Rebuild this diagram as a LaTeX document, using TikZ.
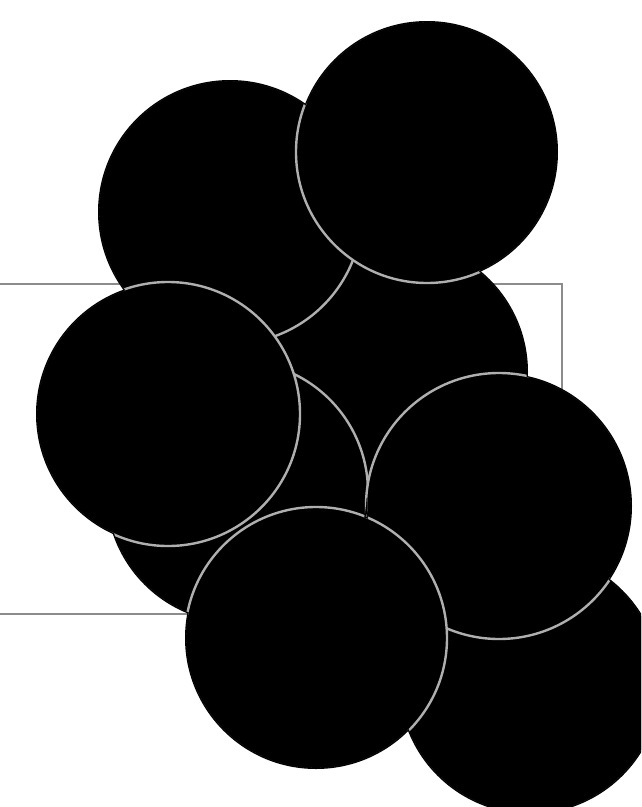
\documentclass[tikz,border=0pt]{standalone}
\definecolor{ringgray}{RGB}{175,175,175}
\definecolor{boxgray}{RGB}{140,140,140}
\tikzset{
  disc/.style={fill=black, draw=ringgray, line width=2.4pt},
  silhouette/.style={fill=black},
  frame/.style={draw=boxgray, line width=2.8pt}
}
% circles back to front: x/y/r
\def\disclist{397/372/131, 530/683/131, 230/212/132, 427/152/131, 237/492/131, 168/414/132, 499/506/133, 316/638/131}
\begin{document}
\begin{tikzpicture}[x=1pt,y=-1pt]
\useasboundingbox (0,0) rectangle (641,807);
\fill[white] (0,0) rectangle (641,807);
\clip (0,0) rectangle (641,807);
% background frame
\draw[frame] (-10,284) rectangle (562,614);
% black silhouette of all circles
\foreach \cx/\cy/\cr in \disclist {
  \path[silhouette] (\cx,\cy) circle (\cr);
}
% stacked circles with light rings, kept inside the silhouette
\begin{scope}
  \clip (397,372) circle (129.6) (530,683) circle (129.6) (230,212) circle (130.6)
        (427,152) circle (129.6) (237,492) circle (129.6) (168,414) circle (130.6)
        (499,506) circle (131.6) (316,638) circle (129.6);
  \foreach \cx/\cy/\cr in \disclist {
    \path[disc] (\cx,\cy) circle (\cr);
  }
\end{scope}
\end{tikzpicture}
\end{document}
